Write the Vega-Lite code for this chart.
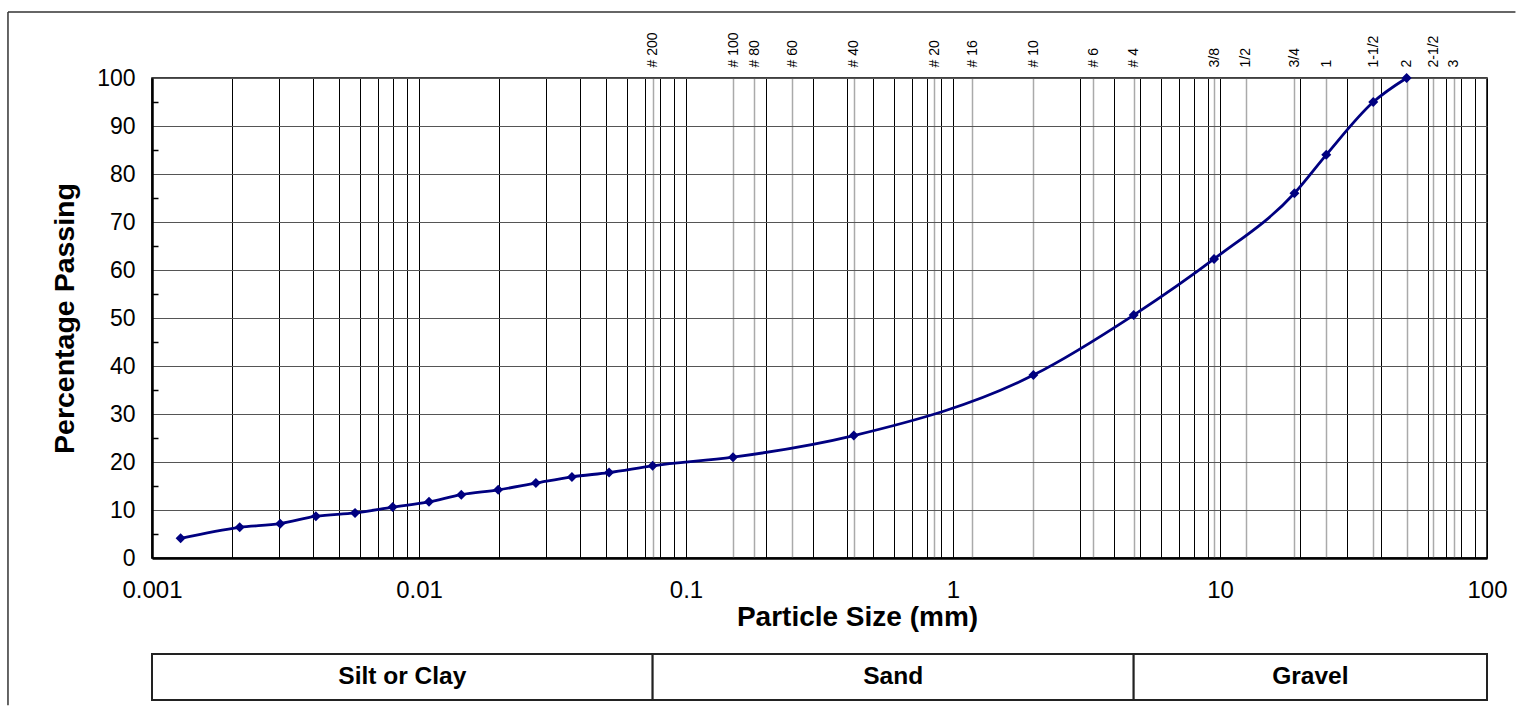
{
  "$schema": "https://vega.github.io/schema/vega-lite/v6.json",
  "padding": {"left": 6, "top": 10, "right": 0, "bottom": 0},
  "background": "white",
  "bounds": "flush",
  "spacing": 96,
  "config": {
    "font": "Liberation Sans",
    "view": {"stroke": "#000", "strokeWidth": 1.5},
    "axis": {"labelFont": "Liberation Sans", "titleFont": "Liberation Sans", "labelColor": "#000", "titleColor": "#000"}
  },
  "datasets": {
    "gradation": [
      {"size": 0.00128, "passing": 4.1},
      {"size": 0.00213, "passing": 6.4},
      {"size": 0.00302, "passing": 7.15},
      {"size": 0.00411, "passing": 8.7},
      {"size": 0.00576, "passing": 9.4},
      {"size": 0.00797, "passing": 10.6},
      {"size": 0.0109, "passing": 11.7},
      {"size": 0.0144, "passing": 13.2},
      {"size": 0.0198, "passing": 14.2},
      {"size": 0.0274, "passing": 15.6},
      {"size": 0.0374, "passing": 16.9},
      {"size": 0.0515, "passing": 17.8},
      {"size": 0.075, "passing": 19.2},
      {"size": 0.15, "passing": 21.0},
      {"size": 0.425, "passing": 25.5},
      {"size": 2.0, "passing": 38.1},
      {"size": 4.75, "passing": 50.6},
      {"size": 9.5, "passing": 62.3},
      {"size": 19.0, "passing": 76.0},
      {"size": 25.0, "passing": 84.0},
      {"size": 37.5, "passing": 95.0},
      {"size": 50.0, "passing": 100.0}
    ],
    "zones": [
      {"zone": "Silt or Clay", "lo": 0.001, "hi": 0.075},
      {"zone": "Sand", "lo": 0.075, "hi": 4.75},
      {"zone": "Gravel", "lo": 4.75, "hi": 100}
    ]
  },
  "vconcat": [
    {
      "width": 1335,
      "height": 480,
      "resolve": {"axis": {"x": "independent", "y": "independent"}},
      "layer": [
        {
          "data": {"values": [{}]},
          "mark": {"type": "rule", "color": "#333", "strokeWidth": 1.5},
          "encoding": {
            "x": {"datum": 0.0002888, "type": "quantitative", "scale": {"type": "log", "domain": [0.001, 100], "nice": false}, "axis": null},
            "y": {"datum": 113.75, "type": "quantitative", "scale": {"domain": [0, 100], "nice": false, "zero": false}, "axis": null},
            "y2": {"datum": -30.7}
          }
        },
        {
          "data": {"values": [{}]},
          "mark": {"type": "rule", "color": "#333", "strokeWidth": 1.5},
          "encoding": {
            "x": {"datum": 0.0002888, "type": "quantitative", "scale": {"type": "log", "domain": [0.001, 100], "nice": false}, "axis": null},
            "x2": {"datum": 127.8},
            "y": {"datum": 113.75, "type": "quantitative", "scale": {"domain": [0, 100], "nice": false, "zero": false}, "axis": null}
          }
        },
        {
          "data": {"name": "gradation"},
          "mark": {"type": "line", "color": "#000080", "strokeWidth": 2.8, "interpolate": "monotone"},
          "encoding": {
            "x": {
              "field": "size", "type": "quantitative",
              "scale": {"type": "log", "domain": [0.001, 100], "nice": false},
              "axis": {
                "orient": "bottom",
                "values": [0.001,0.002,0.003,0.004,0.005,0.006,0.007,0.008,0.009,0.01,0.02,0.03,0.04,0.05,0.06,0.07,0.08,0.09,0.1,0.2,0.3,0.4,0.5,0.6,0.7,0.8,0.9,1,2,3,4,5,6,7,8,9,10,20,30,40,50,60,70,80,90,100],
                "labelExpr": "abs(log(datum.value)/LN10 - round(log(datum.value)/LN10)) < 0.0001 ? format(datum.value, '~g') : ''",
                "grid": true, "gridColor": "#000", "gridWidth": 1, "gridOpacity": 1,
                "ticks": false, "tickSize": 0,
                "domain": true, "domainColor": "#000", "domainWidth": 2.5,
                "labelFontSize": 24, "labelPadding": 20, "labelOverlap": false, "labelFlush": false, "labelBound": false,
                "title": "Particle Size (mm)", "titleFontSize": 28, "titleFontWeight": "bold", "titlePadding": 1, "titleX": 705
              }
            },
            "y": {
              "field": "passing", "type": "quantitative",
              "scale": {"domain": [0, 100], "nice": false, "zero": false},
              "axis": {
                "orient": "left",
                "values": [0,10,20,30,40,50,60,70,80,90,100],
                "grid": true, "gridColor": "#555", "gridWidth": 1.2, "gridOpacity": 1,
                "ticks": false, "tickSize": 0,
                "domain": true, "domainColor": "#000", "domainWidth": 2.5,
                "labelFontSize": 23, "labelPadding": 17,
                "title": "Percentage Passing", "titleFontSize": 28.5, "titleFontWeight": "bold", "titlePadding": 17
              }
            }
          }
        },
        {
          "data": {"name": "gradation"},
          "mark": {"type": "point", "shape": "diamond", "filled": true, "color": "#000080", "size": 100, "opacity": 1},
          "encoding": {
            "x": {
              "field": "size", "type": "quantitative",
              "scale": {"type": "log", "domain": [0.001, 100], "nice": false},
              "axis": {
                "orient": "top",
                "values": [0.075,0.15,0.18,0.25,0.425,0.85,1.18,2,3.35,4.75,9.5,12.5,19,25,37.5,50,63,75],
                "labelExpr": "datum.value == 0.075 ? '# 200' : datum.value == 0.15 ? '# 100' : datum.value == 0.18 ? '# 80' : datum.value == 0.25 ? '# 60' : datum.value == 0.425 ? '# 40' : datum.value == 0.85 ? '# 20' : datum.value == 1.18 ? '# 16' : datum.value == 2 ? '# 10' : datum.value == 3.35 ? '# 6' : datum.value == 4.75 ? '# 4' : datum.value == 9.5 ? '3/8' : datum.value == 12.5 ? '1/2' : datum.value == 19 ? '3/4' : datum.value == 25 ? '1' : datum.value == 37.5 ? '1-1/2' : datum.value == 50 ? '2' : datum.value == 63 ? '2-1/2' : datum.value == 75 ? '3' : ''",
                "labelAngle": -90, "labelAlign": "left", "labelBaseline": "middle",
                "labelFontSize": 14, "labelPadding": 11,
                "ticks": false, "tickSize": 0, "domain": false,
                "grid": true, "gridColor": "#aaa", "gridWidth": 1.5, "gridOpacity": 1,
                "labelOverlap": false, "labelFlush": false, "labelBound": false,
                "title": null
              }
            },
            "y": {
              "field": "passing", "type": "quantitative",
              "scale": {"domain": [0, 100], "nice": false, "zero": false},
              "axis": {
                "orient": "left",
                "values": [5,15,25,35,45,55,65,75,85,95],
                "grid": false, "labels": false, "domain": false,
                "ticks": true, "tickSize": -6, "tickColor": "#000", "tickWidth": 1.5,
                "title": null
              }
            }
          }
        }
      ]
    },
    {
      "width": 1335,
      "height": 46,
      "data": {"name": "zones"},
      "view": {"stroke": null},
      "transform": [{"calculate": "sqrt(datum.lo * datum.hi)", "as": "mid"}],
      "layer": [
        {
          "mark": {"type": "rect", "fill": "white", "stroke": "#222", "strokeWidth": 2},
          "encoding": {
            "x": {"field": "lo", "type": "quantitative", "scale": {"type": "log", "domain": [0.001, 100], "nice": false}, "axis": null},
            "x2": {"field": "hi"}
          }
        },
        {
          "mark": {"type": "text", "fontSize": 24.5, "fontWeight": "bold", "font": "Liberation Sans", "color": "#000"},
          "encoding": {
            "x": {"field": "mid", "type": "quantitative", "scale": {"type": "log", "domain": [0.001, 100], "nice": false}, "axis": null},
            "text": {"field": "zone"}
          }
        }
      ]
    }
  ]
}
